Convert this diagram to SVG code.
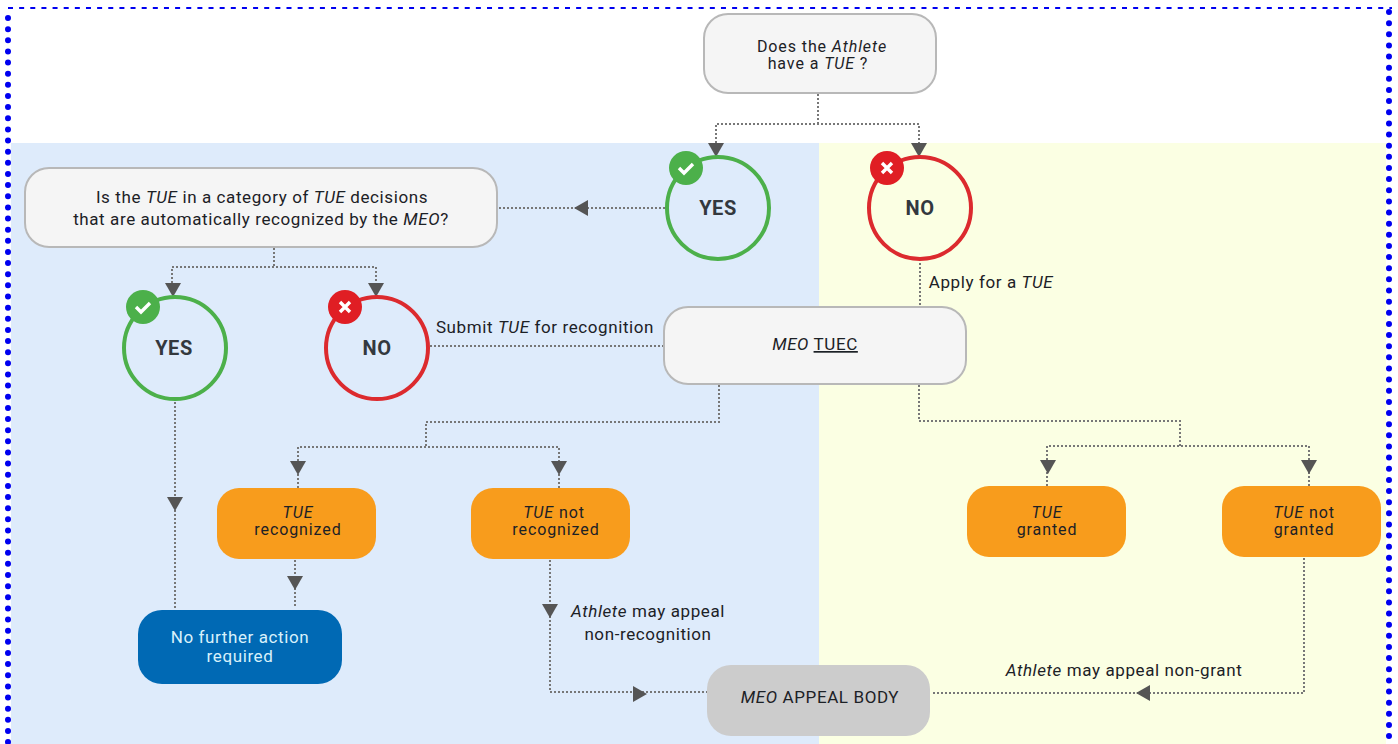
<svg xmlns="http://www.w3.org/2000/svg" width="1398" height="744" viewBox="0 0 1398 744">
<style>
text{font-family:"Roboto","Liberation Sans",sans-serif;font-size:17px;font-weight:400;fill:#1c2126;text-anchor:middle;letter-spacing:.6px}
text.t{font-size:16px;letter-spacing:.9px}
.i{font-style:italic}
.box{fill:#f5f5f5;stroke:#b8b8b8;stroke-width:2}
.or{fill:#f89c1c}
.c{fill:none;stroke:#777;stroke-width:2;stroke-dasharray:2 2}
.a{fill:#555}
.ring{fill:none;stroke-width:4}
.g{stroke:#4cb04a}.r{stroke:#dc2a2e}
text.big{font-weight:700;font-size:20px;fill:#33383e}
.m{fill:none;stroke:#fff;stroke-width:3.4}
.b{fill:none;stroke:#0000f0;stroke-width:6;stroke-linecap:round;stroke-dasharray:0 11.14}
</style>
<defs><polygon id="ad" points="-8,0 8,0 0,14"/></defs>
<rect width="1398" height="744" fill="#fff"/>
<rect x="11" y="143" width="808" height="601" fill="#deebfb"/>
<rect x="819" y="143" width="567" height="601" fill="#fbffe3"/>
<g id="border">
<path class="b" d="M8 18V744M1389 12V744"/>
<path d="M8 8H1392" fill="none" stroke="#0000f0" stroke-width="2" stroke-dasharray="5 6.14"/>
</g>
<g id="connectors">
<path class="c" d="M818 94V124M716 143V124H919V143"/>
<path class="c" d="M499 208H665"/>
<path class="c" d="M274 248V267M172 283V267H376V283"/>
<path class="c" d="M920 263V307"/>
<path class="c" d="M430 346H664"/>
<path class="c" d="M175 402V608"/>
<path class="c" d="M719 385V422H426V447M298 461V447H559V461"/>
<path class="c" d="M298 474V488M559 474V488"/>
<path class="c" d="M919 385V421H1180V446M1047 460V446H1309V460"/>
<path class="c" d="M1047 472V486M1309 472V486"/>
<path class="c" d="M295 560V608"/>
<path class="c" d="M550 560V692H707"/>
<path class="c" d="M1304 558V693H931"/>
<g class="a">
<use href="#ad" x="716" y="143"/><use href="#ad" x="919" y="143"/>
<use href="#ad" transform="translate(588 208) rotate(90)"/>
<use href="#ad" x="173" y="283"/><use href="#ad" x="376" y="283"/>
<use href="#ad" x="175" y="497"/>
<use href="#ad" x="298" y="461"/><use href="#ad" x="559" y="461"/>
<use href="#ad" x="1048" y="460"/><use href="#ad" x="1309" y="460"/>
<use href="#ad" x="295" y="576"/><use href="#ad" x="550" y="604"/>
<use href="#ad" transform="translate(633 694) rotate(-90)"/>
<use href="#ad" transform="translate(1150 693) rotate(90)"/>
</g>
</g>
<g id="n-athlete"><rect class="box" x="704" y="14" width="232" height="79" rx="24"/>
<text class="t" x="822" y="52">Does the <tspan class="i">Athlete</tspan></text><text class="t" x="818" y="69">have a <tspan class="i">TUE</tspan> ?</text></g>
<g id="n-yes1"><circle class="ring g" cx="718" cy="208" r="51"/><text class="big" x="718" y="215">YES</text>
<circle cx="686" cy="168" r="17" fill="#4cb04a"/><path class="m" d="M679 168l5 5 9-9"/></g>
<g id="n-no1"><circle class="ring r" cx="920" cy="208" r="51"/><text class="big" x="920" y="215">NO</text>
<circle cx="887" cy="168" r="17" fill="#e01e24"/><path class="m" d="M882 163l10 10M892 163l-10 10"/></g>
<g id="n-category"><rect class="box" x="25" y="168" width="472" height="79" rx="24"/>
<text x="262" y="203">Is the <tspan class="i">TUE</tspan> in a category of <tspan class="i">TUE</tspan> decisions</text>
<text x="261" y="225">that are automatically recognized by the <tspan class="i">MEO</tspan>?</text></g>
<g id="n-yes2"><circle class="ring g" cx="175" cy="348" r="51"/><text class="big" x="174" y="355">YES</text>
<circle cx="143" cy="307" r="17" fill="#4cb04a"/><path class="m" d="M136 307l5 5 9-9"/></g>
<g id="n-no2"><circle class="ring r" cx="377" cy="348" r="51"/><text class="big" x="377" y="355">NO</text>
<circle cx="345" cy="307" r="17" fill="#e01e24"/><path class="m" d="M340 302l10 10M350 302l-10 10"/></g>
<g id="n-tuec"><rect class="box" x="664" y="307" width="302" height="77" rx="24"/>
<text x="815" y="350"><tspan class="i">MEO</tspan> <tspan text-decoration="underline">TUEC</tspan></text></g>
<g id="n-recognized"><rect class="or" x="217" y="488" width="159" height="71" rx="22"/>
<text class="t" x="298" y="518"><tspan class="i">TUE</tspan></text><text class="t" x="298" y="535">recognized</text></g>
<g id="n-notrecognized"><rect class="or" x="471" y="488" width="159" height="71" rx="22"/>
<text class="t" x="554" y="518"><tspan class="i">TUE</tspan> not</text><text class="t" x="556" y="535">recognized</text></g>
<g id="n-granted"><rect class="or" x="967" y="486" width="159" height="71" rx="22"/>
<text class="t" x="1047" y="518"><tspan class="i">TUE</tspan></text><text class="t" x="1047" y="535">granted</text></g>
<g id="n-notgranted"><rect class="or" x="1222" y="486" width="159" height="71" rx="22"/>
<text class="t" x="1304" y="518"><tspan class="i">TUE</tspan> not</text><text class="t" x="1304" y="535">granted</text></g>
<g id="n-nofurther"><rect x="138" y="610" width="204" height="74" rx="24" fill="#0069b4"/>
<text x="240" y="643" style="fill:#d8f1fb">No further action</text><text x="240" y="662" style="fill:#d8f1fb">required</text></g>
<g id="n-appeal"><rect x="707" y="665" width="223" height="71" rx="24" fill="#cccccc"/>
<text x="820" y="703"><tspan class="i">MEO</tspan> APPEAL BODY</text></g>
<g id="labels">
<text x="991" y="288">Apply for a <tspan class="i">TUE</tspan></text>
<text x="545" y="333">Submit <tspan class="i">TUE</tspan> for recognition</text>
<text x="648" y="617"><tspan class="i">Athlete</tspan> may appeal</text>
<text x="648" y="640">non-recognition</text>
<text x="1124" y="676"><tspan class="i">Athlete</tspan> may appeal non-grant</text>
</g>
</svg>
